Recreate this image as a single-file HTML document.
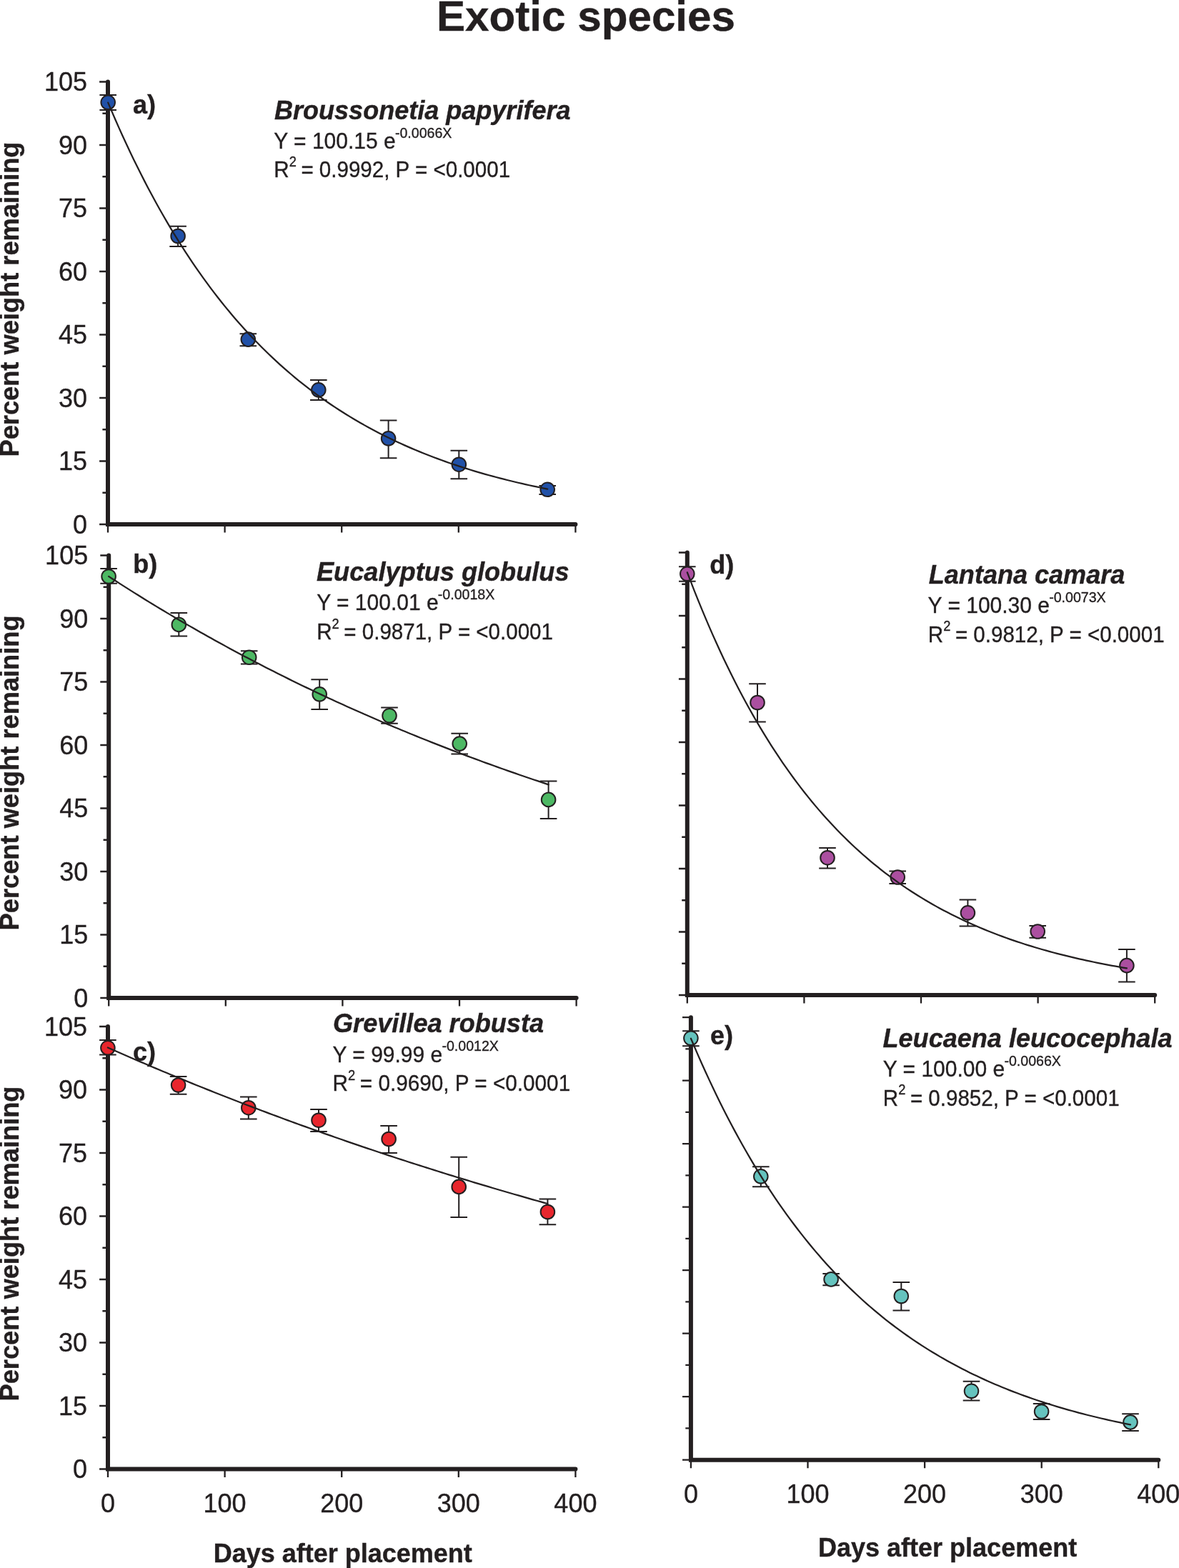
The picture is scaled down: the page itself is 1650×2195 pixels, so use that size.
<!DOCTYPE html>
<html lang="en"><head><meta charset="utf-8"><title>Exotic species</title>
<style>html,body{margin:0;padding:0;background:#fff}body{width:1650px;height:2195px;overflow:hidden}svg{display:block}text{font-family:'Liberation Sans', sans-serif;fill:#231F20}text.r{stroke:#231F20;stroke-width:0.35px}text[font-weight=bold]{stroke:#231F20;stroke-width:0.4px}</style></head><body>
<svg width="1650" height="2195" viewBox="0 0 1650 2195">
<rect width="1650" height="2195" fill="#fff"/>
<text x="611" y="43" font-size="60" font-weight="bold" textLength="418" lengthAdjust="spacingAndGlyphs">Exotic species</text>
<g id="panel-a">
<path d="M139.1 734H151M139.1 645.5H151M139.1 557H151M139.1 468.5H151M139.1 380H151M139.1 291.5H151M139.1 203H151M139.1 114.5H151" stroke="#231F20" stroke-width="2.3" fill="none"/>
<path d="M143.4 689.75H151M143.4 601.25H151M143.4 512.75H151M143.4 424.25H151M143.4 335.75H151M143.4 247.25H151M143.4 158.75H151" stroke="#231F20" stroke-width="2.3" fill="none"/>
<path d="M151 734V745.6M314.6 734V745.6M478.2 734V745.6M641.8 734V745.6M805.4 734V745.6" stroke="#231F20" stroke-width="2.3" fill="none"/>
<path d="M151 114.5V734H805.4" stroke="#231F20" stroke-width="6.0" fill="none" stroke-linecap="round" stroke-linejoin="miter"/>
<text x="122" y="746.5" class="r" font-size="36" text-anchor="end">0</text>
<text x="122" y="658" class="r" font-size="36" text-anchor="end">15</text>
<text x="122" y="569.5" class="r" font-size="36" text-anchor="end">30</text>
<text x="122" y="481" class="r" font-size="36" text-anchor="end">45</text>
<text x="122" y="392.5" class="r" font-size="36" text-anchor="end">60</text>
<text x="122" y="304" class="r" font-size="36" text-anchor="end">75</text>
<text x="122" y="215.5" class="r" font-size="36" text-anchor="end">90</text>
<text x="122" y="127" class="r" font-size="36" text-anchor="end">105</text>
<path d="M151.2 133V154M139.4 133H163M139.4 154H163M249.1 316.7V344.9M237.3 316.7H260.9M237.3 344.9H260.9M347.3 467.3V484.2M335.5 467.3H359.1M335.5 484.2H359.1M445.8 532V560M434 532H457.6M434 560H457.6M543.6 588.4V641.2M531.8 588.4H555.4M531.8 641.2H555.4M642.3 630.8V670.3M630.5 630.8H654.1M630.5 670.3H654.1M766.2 680V692.1M754.4 680H778M754.4 692.1H778" stroke="#231F20" stroke-width="2.0" fill="none"/>
<circle cx="151.2" cy="143.3" r="9.8" fill="#2151A8" stroke="#231F20" stroke-width="2.0"/>
<circle cx="249.1" cy="330.5" r="9.8" fill="#2151A8" stroke="#231F20" stroke-width="2.0"/>
<circle cx="347.3" cy="475.1" r="9.8" fill="#2151A8" stroke="#231F20" stroke-width="2.0"/>
<circle cx="445.8" cy="545.8" r="9.8" fill="#2151A8" stroke="#231F20" stroke-width="2.0"/>
<circle cx="543.6" cy="613.8" r="9.8" fill="#2151A8" stroke="#231F20" stroke-width="2.0"/>
<circle cx="642.3" cy="650.2" r="9.8" fill="#2151A8" stroke="#231F20" stroke-width="2.0"/>
<circle cx="766.2" cy="685.3" r="9.8" fill="#2151A8" stroke="#231F20" stroke-width="2.0"/>
<polyline points="151.2,143.59 156.32,155.67 161.45,167.51 166.57,179.1 171.7,190.45 176.82,201.58 181.95,212.47 187.07,223.14 192.2,233.6 197.32,243.84 202.45,253.87 207.57,263.69 212.7,273.32 217.82,282.74 222.95,291.98 228.07,301.02 233.2,309.88 238.32,318.56 243.45,327.06 248.57,335.39 253.7,343.55 258.82,351.54 263.95,359.36 269.07,367.03 274.2,374.54 279.32,381.9 284.45,389.1 289.57,396.16 294.7,403.07 299.82,409.84 304.95,416.48 310.07,422.97 315.2,429.34 320.32,435.57 325.45,441.68 330.57,447.66 335.7,453.52 340.82,459.26 345.95,464.88 351.07,470.39 356.2,475.78 361.32,481.07 366.45,486.24 371.57,491.31 376.7,496.28 381.82,501.14 386.95,505.91 392.07,510.58 397.2,515.15 402.32,519.63 407.45,524.01 412.57,528.31 417.7,532.52 422.82,536.64 427.95,540.68 433.07,544.64 438.2,548.51 443.32,552.31 448.45,556.03 453.57,559.67 458.7,563.23 463.82,566.73 468.95,570.15 474.07,573.51 479.2,576.79 484.32,580.01 489.45,583.16 494.57,586.24 499.7,589.27 504.82,592.23 509.95,595.13 515.08,597.97 520.2,600.76 525.33,603.48 530.45,606.15 535.58,608.77 540.7,611.33 545.83,613.84 550.95,616.3 556.08,618.71 561.2,621.07 566.33,623.38 571.45,625.64 576.58,627.86 581.7,630.03 586.83,632.16 591.95,634.24 597.08,636.29 602.2,638.28 607.33,640.24 612.45,642.16 617.58,644.04 622.7,645.88 627.83,647.69 632.95,649.45 638.08,651.18 643.2,652.88 648.33,654.54 653.45,656.16 658.58,657.76 663.7,659.32 668.83,660.84 673.95,662.34 679.08,663.81 684.2,665.24 689.33,666.65 694.45,668.03 699.58,669.38 704.7,670.7 709.83,672 714.95,673.27 720.08,674.51 725.2,675.73 730.33,676.92 735.45,678.09 740.58,679.23 745.7,680.35 750.83,681.45 755.95,682.52 761.08,683.58 766.2,684.61" stroke="#231F20" stroke-width="2.25" fill="none" stroke-linecap="round" stroke-linejoin="round"/>
</g>
<g id="panel-b">
<path d="M140.3 1397H152.2M140.3 1308.5H152.2M140.3 1220H152.2M140.3 1131.5H152.2M140.3 1043H152.2M140.3 954.5H152.2M140.3 866H152.2M140.3 777.5H152.2" stroke="#231F20" stroke-width="2.3" fill="none"/>
<path d="M144.6 1352.75H152.2M144.6 1264.25H152.2M144.6 1175.75H152.2M144.6 1087.25H152.2M144.6 998.75H152.2M144.6 910.25H152.2M144.6 821.75H152.2" stroke="#231F20" stroke-width="2.3" fill="none"/>
<path d="M152.2 1397V1408.6M315.8 1397V1408.6M479.4 1397V1408.6M643 1397V1408.6M806.6 1397V1408.6" stroke="#231F20" stroke-width="2.3" fill="none"/>
<path d="M152.2 777.5V1397H806.6" stroke="#231F20" stroke-width="6.0" fill="none" stroke-linecap="round" stroke-linejoin="miter"/>
<text x="123.2" y="1409.5" class="r" font-size="36" text-anchor="end">0</text>
<text x="123.2" y="1321" class="r" font-size="36" text-anchor="end">15</text>
<text x="123.2" y="1232.5" class="r" font-size="36" text-anchor="end">30</text>
<text x="123.2" y="1144" class="r" font-size="36" text-anchor="end">45</text>
<text x="123.2" y="1055.5" class="r" font-size="36" text-anchor="end">60</text>
<text x="123.2" y="967" class="r" font-size="36" text-anchor="end">75</text>
<text x="123.2" y="878.5" class="r" font-size="36" text-anchor="end">90</text>
<text x="123.2" y="790" class="r" font-size="36" text-anchor="end">105</text>
<path d="M152.1 796V816.7M140.3 796H163.9M140.3 816.7H163.9M250.3 857.9V890.6M238.5 857.9H262.1M238.5 890.6H262.1M348.7 911.2V929.4M336.9 911.2H360.5M336.9 929.4H360.5M447.2 951.2V992.9M435.4 951.2H459M435.4 992.9H459M545 990.4V1012.7M533.2 990.4H556.8M533.2 1012.7H556.8M643.2 1026.8V1055.6M631.4 1026.8H655M631.4 1055.6H655M767.6 1093.5V1146.1M755.8 1093.5H779.4M755.8 1146.1H779.4" stroke="#231F20" stroke-width="2.0" fill="none"/>
<circle cx="152.1" cy="807" r="9.8" fill="#4DB864" stroke="#231F20" stroke-width="2.0"/>
<circle cx="250.3" cy="874.4" r="9.8" fill="#4DB864" stroke="#231F20" stroke-width="2.0"/>
<circle cx="348.7" cy="920.2" r="9.8" fill="#4DB864" stroke="#231F20" stroke-width="2.0"/>
<circle cx="447.2" cy="971.8" r="9.8" fill="#4DB864" stroke="#231F20" stroke-width="2.0"/>
<circle cx="545" cy="1001.8" r="9.8" fill="#4DB864" stroke="#231F20" stroke-width="2.0"/>
<circle cx="643.2" cy="1041.1" r="9.8" fill="#4DB864" stroke="#231F20" stroke-width="2.0"/>
<circle cx="767.6" cy="1119.4" r="9.8" fill="#4DB864" stroke="#231F20" stroke-width="2.0"/>
<polyline points="152.1,806.88 157.23,810.22 162.36,813.54 167.49,816.84 172.62,820.12 177.75,823.38 182.88,826.63 188,829.86 193.13,833.07 198.26,836.26 203.39,839.43 208.52,842.59 213.65,845.72 218.78,848.84 223.91,851.94 229.04,855.03 234.17,858.1 239.3,861.15 244.43,864.18 249.55,867.19 254.68,870.19 259.81,873.17 264.94,876.14 270.07,879.08 275.2,882.01 280.33,884.93 285.46,887.83 290.59,890.71 295.72,893.57 300.85,896.42 305.98,899.25 311.1,902.07 316.23,904.87 321.36,907.65 326.49,910.42 331.62,913.18 336.75,915.91 341.88,918.64 347.01,921.34 352.14,924.04 357.27,926.71 362.4,929.37 367.52,932.02 372.65,934.65 377.78,937.27 382.91,939.87 388.04,942.45 393.17,945.03 398.3,947.58 403.43,950.13 408.56,952.66 413.69,955.17 418.82,957.67 423.95,960.16 429.08,962.63 434.2,965.09 439.33,967.53 444.46,969.96 449.59,972.38 454.72,974.78 459.85,977.17 464.98,979.54 470.11,981.91 475.24,984.26 480.37,986.59 485.5,988.91 490.62,991.22 495.75,993.52 500.88,995.8 506.01,998.07 511.14,1000.33 516.27,1002.57 521.4,1004.81 526.53,1007.03 531.66,1009.23 536.79,1011.43 541.92,1013.61 547.05,1015.78 552.17,1017.94 557.3,1020.08 562.43,1022.21 567.56,1024.33 572.69,1026.44 577.82,1028.54 582.95,1030.62 588.08,1032.7 593.21,1034.76 598.34,1036.81 603.47,1038.85 608.6,1040.87 613.73,1042.89 618.85,1044.89 623.98,1046.88 629.11,1048.87 634.24,1050.84 639.37,1052.79 644.5,1054.74 649.63,1056.68 654.76,1058.61 659.89,1060.52 665.02,1062.42 670.15,1064.32 675.27,1066.2 680.4,1068.07 685.53,1069.93 690.66,1071.78 695.79,1073.62 700.92,1075.45 706.05,1077.27 711.18,1079.08 716.31,1080.88 721.44,1082.67 726.57,1084.45 731.7,1086.22 736.83,1087.98 741.95,1089.72 747.08,1091.46 752.21,1093.19 757.34,1094.91 762.47,1096.62 767.6,1098.32" stroke="#231F20" stroke-width="2.25" fill="none" stroke-linecap="round" stroke-linejoin="round"/>
</g>
<g id="panel-c">
<path d="M139.1 2056.5H151M139.1 1968H151M139.1 1879.5H151M139.1 1791H151M139.1 1702.5H151M139.1 1614H151M139.1 1525.5H151M139.1 1437H151" stroke="#231F20" stroke-width="2.3" fill="none"/>
<path d="M143.4 2012.25H151M143.4 1923.75H151M143.4 1835.25H151M143.4 1746.75H151M143.4 1658.25H151M143.4 1569.75H151M143.4 1481.25H151" stroke="#231F20" stroke-width="2.3" fill="none"/>
<path d="M151 2056.5V2068.1M314.6 2056.5V2068.1M478.2 2056.5V2068.1M641.8 2056.5V2068.1M805.4 2056.5V2068.1" stroke="#231F20" stroke-width="2.3" fill="none"/>
<path d="M151 1437V2056.5H805.4" stroke="#231F20" stroke-width="6.0" fill="none" stroke-linecap="round" stroke-linejoin="miter"/>
<text x="122" y="2069" class="r" font-size="36" text-anchor="end">0</text>
<text x="122" y="1980.5" class="r" font-size="36" text-anchor="end">15</text>
<text x="122" y="1892" class="r" font-size="36" text-anchor="end">30</text>
<text x="122" y="1803.5" class="r" font-size="36" text-anchor="end">45</text>
<text x="122" y="1715" class="r" font-size="36" text-anchor="end">60</text>
<text x="122" y="1626.5" class="r" font-size="36" text-anchor="end">75</text>
<text x="122" y="1538" class="r" font-size="36" text-anchor="end">90</text>
<text x="122" y="1449.5" class="r" font-size="36" text-anchor="end">105</text>
<text x="151" y="2117.3" class="r" font-size="36" text-anchor="middle">0</text>
<text x="314.6" y="2117.3" class="r" font-size="36" text-anchor="middle">100</text>
<text x="478.2" y="2117.3" class="r" font-size="36" text-anchor="middle">200</text>
<text x="641.8" y="2117.3" class="r" font-size="36" text-anchor="middle">300</text>
<text x="805.4" y="2117.3" class="r" font-size="36" text-anchor="middle">400</text>
<path d="M150.9 1456V1476.5M139.1 1456H162.7M139.1 1476.5H162.7M249.6 1507.1V1531.8M237.8 1507.1H261.4M237.8 1531.8H261.4M347.8 1535.5V1566.5M336 1535.5H359.6M336 1566.5H359.6M446 1552.9V1584M434.2 1552.9H457.8M434.2 1584H457.8M544.1 1576.1V1614.1M532.3 1576.1H555.9M532.3 1614.1H555.9M642.2 1619.7V1704.1M630.4 1619.7H654M630.4 1704.1H654M766.4 1678.6V1714.2M754.6 1678.6H778.2M754.6 1714.2H778.2" stroke="#231F20" stroke-width="2.0" fill="none"/>
<circle cx="150.9" cy="1466.8" r="9.8" fill="#E8262D" stroke="#231F20" stroke-width="2.0"/>
<circle cx="249.6" cy="1519" r="9.8" fill="#E8262D" stroke="#231F20" stroke-width="2.0"/>
<circle cx="347.8" cy="1550.7" r="9.8" fill="#E8262D" stroke="#231F20" stroke-width="2.0"/>
<circle cx="446" cy="1568.2" r="9.8" fill="#E8262D" stroke="#231F20" stroke-width="2.0"/>
<circle cx="544.1" cy="1594.5" r="9.8" fill="#E8262D" stroke="#231F20" stroke-width="2.0"/>
<circle cx="642.2" cy="1661.4" r="9.8" fill="#E8262D" stroke="#231F20" stroke-width="2.0"/>
<circle cx="766.4" cy="1696.5" r="9.8" fill="#E8262D" stroke="#231F20" stroke-width="2.0"/>
<polyline points="150.9,1466.51 156.03,1468.79 161.16,1471.05 166.29,1473.3 171.42,1475.55 176.55,1477.78 181.68,1480.01 186.8,1482.23 191.93,1484.44 197.06,1486.64 202.19,1488.83 207.32,1491.02 212.45,1493.19 217.58,1495.36 222.71,1497.52 227.84,1499.67 232.97,1501.82 238.1,1503.95 243.23,1506.08 248.35,1508.2 253.48,1510.31 258.61,1512.41 263.74,1514.5 268.87,1516.59 274,1518.67 279.13,1520.74 284.26,1522.8 289.39,1524.85 294.52,1526.9 299.65,1528.94 304.77,1530.97 309.9,1532.99 315.03,1535.01 320.16,1537.01 325.29,1539.01 330.42,1541 335.55,1542.99 340.68,1544.97 345.81,1546.93 350.94,1548.9 356.07,1550.85 361.2,1552.8 366.33,1554.73 371.45,1556.67 376.58,1558.59 381.71,1560.51 386.84,1562.41 391.97,1564.32 397.1,1566.21 402.23,1568.1 407.36,1569.98 412.49,1571.85 417.62,1573.72 422.75,1575.57 427.88,1577.42 433,1579.27 438.13,1581.11 443.26,1582.93 448.39,1584.76 453.52,1586.57 458.65,1588.38 463.78,1590.18 468.91,1591.98 474.04,1593.77 479.17,1595.55 484.3,1597.32 489.42,1599.09 494.55,1600.85 499.68,1602.6 504.81,1604.35 509.94,1606.09 515.07,1607.82 520.2,1609.55 525.33,1611.27 530.46,1612.98 535.59,1614.69 540.72,1616.39 545.85,1618.09 550.98,1619.77 556.1,1621.45 561.23,1623.13 566.36,1624.8 571.49,1626.46 576.62,1628.11 581.75,1629.76 586.88,1631.4 592.01,1633.04 597.14,1634.67 602.27,1636.29 607.4,1637.91 612.52,1639.52 617.65,1641.13 622.78,1642.73 627.91,1644.32 633.04,1645.9 638.17,1647.49 643.3,1649.06 648.43,1650.63 653.56,1652.19 658.69,1653.75 663.82,1655.3 668.95,1656.84 674.07,1658.38 679.2,1659.91 684.33,1661.44 689.46,1662.96 694.59,1664.47 699.72,1665.98 704.85,1667.48 709.98,1668.98 715.11,1670.47 720.24,1671.96 725.37,1673.44 730.5,1674.91 735.62,1676.38 740.75,1677.85 745.88,1679.3 751.01,1680.75 756.14,1682.2 761.27,1683.64 766.4,1685.08" stroke="#231F20" stroke-width="2.25" fill="none" stroke-linecap="round" stroke-linejoin="round"/>
</g>
<g id="panel-d">
<path d="M949.9 1393H961.8M949.9 1304.5H961.8M949.9 1216H961.8M949.9 1127.5H961.8M949.9 1039H961.8M949.9 950.5H961.8M949.9 862H961.8M949.9 773.5H961.8" stroke="#231F20" stroke-width="2.3" fill="none"/>
<path d="M954.2 1348.75H961.8M954.2 1260.25H961.8M954.2 1171.75H961.8M954.2 1083.25H961.8M954.2 994.75H961.8M954.2 906.25H961.8M954.2 817.75H961.8" stroke="#231F20" stroke-width="2.3" fill="none"/>
<path d="M961.8 1393V1404.6M1125.4 1393V1404.6M1289 1393V1404.6M1452.6 1393V1404.6M1616.2 1393V1404.6" stroke="#231F20" stroke-width="2.3" fill="none"/>
<path d="M961.8 773.5V1393H1616.2" stroke="#231F20" stroke-width="6.0" fill="none" stroke-linecap="round" stroke-linejoin="miter"/>
<path d="M961.8 793.2V813.8M950 793.2H973.6M950 813.8H973.6M1060 957.3V1010.6M1048.2 957.3H1071.8M1048.2 1010.6H1071.8M1158 1186.9V1215.6M1146.2 1186.9H1169.8M1146.2 1215.6H1169.8M1256.2 1219.6V1237.1M1244.4 1219.6H1268M1244.4 1237.1H1268M1354.4 1259.6V1296.4M1342.6 1259.6H1366.2M1342.6 1296.4H1366.2M1452.2 1296V1312.7M1440.4 1296H1464M1440.4 1312.7H1464M1576.9 1329.1V1374.5M1565.1 1329.1H1588.7M1565.1 1374.5H1588.7" stroke="#231F20" stroke-width="2.0" fill="none"/>
<circle cx="961.8" cy="803.3" r="9.8" fill="#AB4FA0" stroke="#231F20" stroke-width="2.0"/>
<circle cx="1060" cy="983.5" r="9.8" fill="#AB4FA0" stroke="#231F20" stroke-width="2.0"/>
<circle cx="1158" cy="1200.7" r="9.8" fill="#AB4FA0" stroke="#231F20" stroke-width="2.0"/>
<circle cx="1256.2" cy="1228" r="9.8" fill="#AB4FA0" stroke="#231F20" stroke-width="2.0"/>
<circle cx="1354.4" cy="1277.8" r="9.8" fill="#AB4FA0" stroke="#231F20" stroke-width="2.0"/>
<circle cx="1452.2" cy="1304" r="9.8" fill="#AB4FA0" stroke="#231F20" stroke-width="2.0"/>
<circle cx="1576.9" cy="1351.6" r="9.8" fill="#AB4FA0" stroke="#231F20" stroke-width="2.0"/>
<polyline points="961.8,801.23 966.93,814.67 972.05,827.8 977.18,840.63 982.3,853.17 987.43,865.43 992.55,877.4 997.68,889.11 1002.81,900.55 1007.93,911.73 1013.06,922.66 1018.18,933.34 1023.31,943.77 1028.44,953.97 1033.56,963.94 1038.69,973.68 1043.81,983.2 1048.94,992.51 1054.07,1001.6 1059.19,1010.49 1064.32,1019.17 1069.44,1027.66 1074.57,1035.95 1079.69,1044.06 1084.82,1051.98 1089.95,1059.72 1095.07,1067.29 1100.2,1074.69 1105.32,1081.91 1110.45,1088.98 1115.58,1095.88 1120.7,1102.63 1125.83,1109.22 1130.95,1115.66 1136.08,1121.96 1141.2,1128.11 1146.33,1134.13 1151.46,1140 1156.58,1145.75 1161.71,1151.36 1166.83,1156.85 1171.96,1162.21 1177.09,1167.45 1182.21,1172.57 1187.34,1177.57 1192.46,1182.47 1197.59,1187.25 1202.71,1191.92 1207.84,1196.48 1212.97,1200.94 1218.09,1205.3 1223.22,1209.57 1228.34,1213.73 1233.47,1217.8 1238.6,1221.78 1243.72,1225.67 1248.85,1229.47 1253.97,1233.18 1259.1,1236.81 1264.22,1240.35 1269.35,1243.82 1274.48,1247.21 1279.6,1250.52 1284.73,1253.75 1289.85,1256.91 1294.98,1260 1300.11,1263.02 1305.23,1265.97 1310.36,1268.86 1315.48,1271.68 1320.61,1274.43 1325.73,1277.12 1330.86,1279.75 1335.99,1282.32 1341.11,1284.84 1346.24,1287.29 1351.36,1289.69 1356.49,1292.04 1361.62,1294.33 1366.74,1296.57 1371.87,1298.76 1376.99,1300.9 1382.12,1302.99 1387.24,1305.03 1392.37,1307.03 1397.5,1308.98 1402.62,1310.89 1407.75,1312.76 1412.87,1314.58 1418,1316.36 1423.12,1318.1 1428.25,1319.8 1433.38,1321.46 1438.5,1323.08 1443.63,1324.67 1448.75,1326.22 1453.88,1327.74 1459.01,1329.22 1464.13,1330.67 1469.26,1332.08 1474.38,1333.47 1479.51,1334.82 1484.64,1336.14 1489.76,1337.43 1494.89,1338.69 1500.01,1339.93 1505.14,1341.13 1510.26,1342.31 1515.39,1343.46 1520.52,1344.58 1525.64,1345.68 1530.77,1346.76 1535.89,1347.81 1541.02,1348.83 1546.14,1349.84 1551.27,1350.82 1556.4,1351.77 1561.52,1352.71 1566.65,1353.62 1571.77,1354.52 1576.9,1355.39" stroke="#231F20" stroke-width="2.25" fill="none" stroke-linecap="round" stroke-linejoin="round"/>
</g>
<g id="panel-e">
<path d="M955 2043.7H966.9M955 1955.2H966.9M955 1866.7H966.9M955 1778.2H966.9M955 1689.7H966.9M955 1601.2H966.9M955 1512.7H966.9M955 1424.2H966.9" stroke="#231F20" stroke-width="2.3" fill="none"/>
<path d="M959.3 1999.45H966.9M959.3 1910.95H966.9M959.3 1822.45H966.9M959.3 1733.95H966.9M959.3 1645.45H966.9M959.3 1556.95H966.9M959.3 1468.45H966.9" stroke="#231F20" stroke-width="2.3" fill="none"/>
<path d="M966.9 2043.7V2055.3M1130.5 2043.7V2055.3M1294.1 2043.7V2055.3M1457.7 2043.7V2055.3M1621.3 2043.7V2055.3" stroke="#231F20" stroke-width="2.3" fill="none"/>
<path d="M966.9 1424.2V2043.7H1621.3" stroke="#231F20" stroke-width="6.0" fill="none" stroke-linecap="round" stroke-linejoin="miter"/>
<text x="966.9" y="2104.2" class="r" font-size="36" text-anchor="middle">0</text>
<text x="1130.5" y="2104.2" class="r" font-size="36" text-anchor="middle">100</text>
<text x="1294.1" y="2104.2" class="r" font-size="36" text-anchor="middle">200</text>
<text x="1457.7" y="2104.2" class="r" font-size="36" text-anchor="middle">300</text>
<text x="1621.3" y="2104.2" class="r" font-size="36" text-anchor="middle">400</text>
<path d="M966.9 1443.2V1464.2M955.1 1443.2H978.7M955.1 1464.2H978.7M1064.8 1633.2V1661.3M1053 1633.2H1076.6M1053 1661.3H1076.6M1163.1 1782.9V1799.3M1151.3 1782.9H1174.9M1151.3 1799.3H1174.9M1261.3 1794.9V1834.5M1249.5 1794.9H1273.1M1249.5 1834.5H1273.1M1359.5 1933.8V1960.4M1347.7 1933.8H1371.3M1347.7 1960.4H1371.3M1457.6 1965.1V1986.9M1445.8 1965.1H1469.4M1445.8 1986.9H1469.4M1582 1979.3V2002.9M1570.2 1979.3H1593.8M1570.2 2002.9H1593.8" stroke="#231F20" stroke-width="2.0" fill="none"/>
<circle cx="966.9" cy="1453.3" r="9.8" fill="#65C3BE" stroke="#231F20" stroke-width="2.0"/>
<circle cx="1064.8" cy="1646.8" r="9.8" fill="#65C3BE" stroke="#231F20" stroke-width="2.0"/>
<circle cx="1163.1" cy="1790.9" r="9.8" fill="#65C3BE" stroke="#231F20" stroke-width="2.0"/>
<circle cx="1261.3" cy="1814.5" r="9.8" fill="#65C3BE" stroke="#231F20" stroke-width="2.0"/>
<circle cx="1359.5" cy="1947.3" r="9.8" fill="#65C3BE" stroke="#231F20" stroke-width="2.0"/>
<circle cx="1457.6" cy="1976" r="9.8" fill="#65C3BE" stroke="#231F20" stroke-width="2.0"/>
<circle cx="1582" cy="1990.9" r="9.8" fill="#65C3BE" stroke="#231F20" stroke-width="2.0"/>
<polyline points="966.9,1453.7 972.03,1465.78 977.15,1477.6 982.28,1489.19 987.4,1500.54 992.53,1511.65 997.65,1522.54 1002.78,1533.21 1007.91,1543.66 1013.03,1553.89 1018.16,1563.92 1023.28,1573.74 1028.41,1583.35 1033.54,1592.78 1038.66,1602.01 1043.79,1611.04 1048.91,1619.9 1054.04,1628.57 1059.16,1637.07 1064.29,1645.39 1069.42,1653.54 1074.54,1661.53 1079.67,1669.35 1084.79,1677.01 1089.92,1684.52 1095.05,1691.87 1100.17,1699.07 1105.3,1706.12 1110.42,1713.03 1115.55,1719.8 1120.67,1726.43 1125.8,1732.92 1130.93,1739.28 1136.05,1745.51 1141.18,1751.62 1146.3,1757.59 1151.43,1763.45 1156.56,1769.18 1161.68,1774.8 1166.81,1780.31 1171.93,1785.7 1177.06,1790.98 1182.18,1796.15 1187.31,1801.22 1192.44,1806.18 1197.56,1811.04 1202.69,1815.8 1207.81,1820.47 1212.94,1825.04 1218.07,1829.51 1223.19,1833.89 1228.32,1838.19 1233.44,1842.39 1238.57,1846.51 1243.69,1850.55 1248.82,1854.5 1253.95,1858.38 1259.07,1862.17 1264.2,1865.88 1269.32,1869.52 1274.45,1873.09 1279.58,1876.58 1284.7,1880 1289.83,1883.35 1294.95,1886.63 1300.08,1889.85 1305.2,1893 1310.33,1896.08 1315.46,1899.1 1320.58,1902.06 1325.71,1904.96 1330.83,1907.8 1335.96,1910.58 1341.09,1913.3 1346.21,1915.97 1351.34,1918.59 1356.46,1921.15 1361.59,1923.66 1366.71,1926.11 1371.84,1928.52 1376.97,1930.88 1382.09,1933.19 1387.22,1935.45 1392.34,1937.66 1397.47,1939.83 1402.6,1941.96 1407.72,1944.04 1412.85,1946.08 1417.97,1948.08 1423.1,1950.04 1428.22,1951.95 1433.35,1953.83 1438.48,1955.67 1443.6,1957.47 1448.73,1959.24 1453.85,1960.97 1458.98,1962.66 1464.11,1964.32 1469.23,1965.94 1474.36,1967.53 1479.48,1969.09 1484.61,1970.62 1489.74,1972.11 1494.86,1973.58 1499.99,1975.02 1505.11,1976.42 1510.24,1977.8 1515.36,1979.15 1520.49,1980.47 1525.62,1981.76 1530.74,1983.03 1535.87,1984.27 1540.99,1985.49 1546.12,1986.68 1551.24,1987.85 1556.37,1988.99 1561.5,1990.11 1566.62,1991.21 1571.75,1992.28 1576.87,1993.33 1582,1994.36" stroke="#231F20" stroke-width="2.25" fill="none" stroke-linecap="round" stroke-linejoin="round"/>
</g>
<text transform="translate(26.3 639.5) rotate(-90)" font-size="36" font-weight="bold" textLength="441" lengthAdjust="spacingAndGlyphs">Percent weight remaining</text>
<text transform="translate(26.3 1302.4) rotate(-90)" font-size="36" font-weight="bold" textLength="441" lengthAdjust="spacingAndGlyphs">Percent weight remaining</text>
<text transform="translate(26.3 1961.5) rotate(-90)" font-size="36" font-weight="bold" textLength="441" lengthAdjust="spacingAndGlyphs">Percent weight remaining</text>
<text x="298.7" y="2187.0" font-size="36" font-weight="bold">Days after placement</text>
<text x="1145" y="2178.8" font-size="36" font-weight="bold">Days after placement</text>
<text x="186" y="159" font-size="36" font-weight="bold">a)</text>
<text x="186.3" y="802.2" font-size="36" font-weight="bold">b)</text>
<text x="186" y="1484.6" font-size="36" font-weight="bold">c)</text>
<text x="993.2" y="803" font-size="36" font-weight="bold">d)</text>
<text x="993.9" y="1462.2" font-size="36" font-weight="bold">e)</text>
<text x="384" y="166.5" font-size="36" font-weight="bold" font-style="italic" textLength="414.5" lengthAdjust="spacingAndGlyphs">Broussonetia papyrifera</text>
<g transform="translate(383.3 207.9) scale(1 1.045)"><text class="r" x="0" y="0" font-size="30">Y = 100.15 e<tspan font-size="19.6" dx="-0.8" dy="-14.4">-0.0066X</tspan></text></g>
<g transform="translate(383.3 248.3) scale(0.985 1.045)"><text class="r" x="0" y="0" font-size="30">R<tspan font-size="18.5" dy="-14.6">2</tspan><tspan dx="-1.6" dy="14.6"> = 0.9992, P = &lt;0.0001</tspan></text></g>
<text x="443" y="812.6" font-size="36" font-weight="bold" font-style="italic" textLength="353.5" lengthAdjust="spacingAndGlyphs">Eucalyptus globulus</text>
<g transform="translate(443.2 854.2) scale(1 1.045)"><text class="r" x="0" y="0" font-size="30">Y = 100.01 e<tspan font-size="19.6" dx="-0.8" dy="-14.4">-0.0018X</tspan></text></g>
<g transform="translate(443.2 895) scale(0.985 1.045)"><text class="r" x="0" y="0" font-size="30">R<tspan font-size="18.5" dy="-14.6">2</tspan><tspan dx="-1.6" dy="14.6"> = 0.9871, P = &lt;0.0001</tspan></text></g>
<text x="466" y="1444.9" font-size="36" font-weight="bold" font-style="italic" textLength="295" lengthAdjust="spacingAndGlyphs">Grevillea robusta</text>
<g transform="translate(465.5 1486.5) scale(1 1.045)"><text class="r" x="0" y="0" font-size="30">Y = 99.99 e<tspan font-size="19.6" dx="-0.8" dy="-14.4">-0.0012X</tspan></text></g>
<g transform="translate(465.5 1527) scale(0.9909 1.045)"><text class="r" x="0" y="0" font-size="30">R<tspan font-size="18.5" dy="-14.6">2</tspan><tspan dx="-1.6" dy="14.6"> = 0.9690, P = &lt;0.0001</tspan></text></g>
<text x="1299.8" y="816.8" font-size="36" font-weight="bold" font-style="italic" textLength="274.5" lengthAdjust="spacingAndGlyphs">Lantana camara</text>
<g transform="translate(1298.6 858.3) scale(1 1.045)"><text class="r" x="0" y="0" font-size="30">Y = 100.30 e<tspan font-size="19.6" dx="-0.8" dy="-14.4">-0.0073X</tspan></text></g>
<g transform="translate(1298.8 898.7) scale(0.985 1.045)"><text class="r" x="0" y="0" font-size="30">R<tspan font-size="18.5" dy="-14.6">2</tspan><tspan dx="-1.6" dy="14.6"> = 0.9812, P = &lt;0.0001</tspan></text></g>
<text x="1235.5" y="1465.5" font-size="36" font-weight="bold" font-style="italic" textLength="405" lengthAdjust="spacingAndGlyphs">Leucaena leucocephala</text>
<g transform="translate(1235.8 1507.1) scale(1 1.045)"><text class="r" x="0" y="0" font-size="30">Y = 100.00 e<tspan font-size="19.6" dx="-0.8" dy="-14.4">-0.0066X</tspan></text></g>
<g transform="translate(1235.8 1547.6) scale(0.985 1.045)"><text class="r" x="0" y="0" font-size="30">R<tspan font-size="18.5" dy="-14.6">2</tspan><tspan dx="-1.6" dy="14.6"> = 0.9852, P = &lt;0.0001</tspan></text></g>
</svg></body></html>
